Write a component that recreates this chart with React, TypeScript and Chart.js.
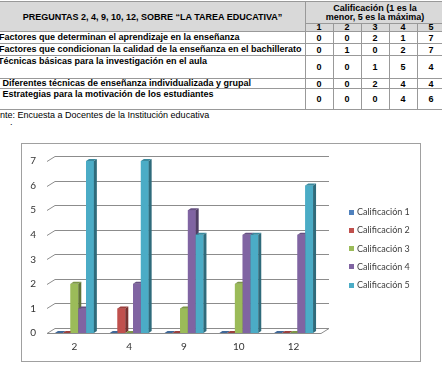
import React, { useEffect, useRef } from "react";
import { Chart, registerables } from "chart.js";

Chart.register(...registerables);

// ---------- data ----------
const categories = ["2", "4", "9", "10", "12"];
const seriesNames = ["Calificación 1", "Calificación 2", "Calificación 3", "Calificación 4", "Calificación 5"];
const calificacion1 = [0, 0, 0, 0, 0];
const calificacion2 = [0, 1, 0, 0, 0];
const calificacion3 = [2, 0, 1, 2, 0];
const calificacion4 = [1, 2, 5, 4, 4];
const calificacion5 = [7, 7, 4, 4, 6];
const seriesColors = ["#4F81BD", "#C0504D", "#9BBB59", "#8064A2", "#4BACC6"];
const yMin = 0;
const yMax = 7;
const yStep = 1;

const tableTitle = "PREGUNTAS 2, 4, 9, 10, 12, SOBRE “LA TAREA EDUCATIVA”";
const ratingTitle1 = "Calificación (1 es la";
const ratingTitle2 = "menor, 5 es la máxima)";
const ratingLabels = ["1", "2", "3", "4", "5"];
const questions = [
  "Factores que determinan el aprendizaje en la enseñanza",
  "Factores que condicionan la calidad de la enseñanza en el bachillerato",
  "Técnicas básicas para la investigación en el aula",
  " Diferentes técnicas de enseñanza individualizada y grupal",
  " Estrategias para la motivación de los estudiantes",
];
const sourceNote = "Fuente: Encuesta a Docentes de la Institución educativa";

const series = [calificacion1, calificacion2, calificacion3, calificacion4, calificacion5];

// ---------- 3D look plugin ----------
const WALL_DX = 8;
const WALL_DY = 5;
const BAR_DX = 3;
const BAR_DY = 2;

function shade(hex: string, f: number) {
  const n = parseInt(hex.slice(1), 16);
  const r = Math.round(((n >> 16) & 255) * f);
  const g = Math.round(((n >> 8) & 255) * f);
  const b = Math.round((n & 255) * f);
  return `rgb(${r},${g},${b})`;
}

const threeD = {
  id: "threeD",
  beforeDatasetsDraw(chart: any) {
    const { ctx, chartArea } = chart;
    const y = chart.scales.y;
    const L = chartArea.left;
    const R = chartArea.right;
    ctx.save();
    ctx.strokeStyle = "#8c8c8c";
    ctx.lineWidth = 1;
    for (let v = yMin; v <= yMax; v += yStep) {
      const py = Math.round(y.getPixelForValue(v)) + 0.5;
      ctx.beginPath();
      ctx.moveTo(L, py);
      ctx.lineTo(L + WALL_DX, py - WALL_DY);
      ctx.lineTo(R + WALL_DX, py - WALL_DY);
      if (v === yMin) {
        ctx.lineTo(R, py);
        ctx.lineTo(L, py);
      }
      ctx.stroke();
    }
    ctx.restore();
  },
  afterDatasetsDraw(chart: any) {
    const { ctx } = chart;
    const n = chart.data.labels.length;
    ctx.save();
    for (let j = 0; j < n; j++) {
      chart.data.datasets.forEach((ds: any, i: number) => {
        const el = chart.getDatasetMeta(i).data[j];
        if (!el) return;
        const { x, y, base, width } = el.getProps(["x", "y", "base", "width"], true);
        const l = x - width / 2;
        const r = x + width / 2;
        const col = ds.backgroundColor as string;
        ctx.fillStyle = col;
        ctx.fillRect(l, y, width, base - y);
        ctx.fillStyle = shade(col, 0.62);
        ctx.beginPath();
        ctx.moveTo(r, y);
        ctx.lineTo(r + BAR_DX, y - BAR_DY);
        ctx.lineTo(r + BAR_DX, base - BAR_DY);
        ctx.lineTo(r, base);
        ctx.closePath();
        ctx.fill();
        ctx.fillStyle = shade(col, 0.8);
        ctx.beginPath();
        ctx.moveTo(l, y);
        ctx.lineTo(r, y);
        ctx.lineTo(r + BAR_DX, y - BAR_DY);
        ctx.lineTo(l + BAR_DX, y - BAR_DY);
        ctx.closePath();
        ctx.fill();
      });
    }
    ctx.restore();
  },
  afterDraw(chart: any) {
    const { ctx } = chart;
    const lx = 327;
    const ys = [68.3, 86.5, 104.7, 122.9, 141.1];
    ctx.save();
    ctx.font = "9px Lato, 'Open Sans', sans-serif";
    ctx.textBaseline = "middle";
    ctx.textAlign = "left";
    chart.data.datasets.forEach((ds: any, i: number) => {
      const yy = ys[i];
      ctx.fillStyle = ds.backgroundColor;
      ctx.fillRect(lx, Math.round(yy - 2.5), 5, 5);
      ctx.fillStyle = "#404040";
      ctx.fillText(ds.label, lx + 8, yy);
    });
    ctx.restore();
  },
};

function BarChart() {
  const ref = useRef<HTMLCanvasElement | null>(null);
  useEffect(() => {
    if (!ref.current) return;
    const chart = new Chart(ref.current, {
      type: "bar",
      data: {
        labels: categories,
        datasets: seriesNames.map((name, i) => ({
          label: name,
          data: series[i],
          backgroundColor: seriesColors[i],
          borderWidth: 0,
          categoryPercentage: 0.71,
          barPercentage: 1.0,
        })),
      },
      options: {
        responsive: false,
        animation: false,
        devicePixelRatio: 1,
        layout: { padding: { top: 10.5, right: 99, left: 0, bottom: 0 } },
        plugins: { legend: { display: false }, tooltip: { enabled: false } },
        scales: {
          x: {
            grid: { display: false, drawTicks: false },
            border: { display: false },
            ticks: { padding: 8, color: "#333333", font: { family: "Lato", size: 10 } },
            afterFit(s: any) {
              s.height = 28;
            },
          },
          y: {
            min: yMin,
            max: yMax,
            grid: { display: false, drawTicks: false },
            border: { display: false },
            ticks: { stepSize: yStep, padding: 11, color: "#333333", font: { family: "Lato", size: 10 } },
            afterFit(s: any) {
              s.width = 25;
            },
          },
        },
      } as any,
      plugins: [threeD],
    });
    return () => chart.destroy();
  }, []);
  return <canvas ref={ref} width={398} height={217} style={{ position: "absolute", left: 0, top: 0 }} />;
}

const FONT = '"Liberation Sans", Arial, sans-serif';
const LINE = "#999999";

function T(props: { x: number; cy: number; text: string; bold?: boolean; center?: boolean; w?: number }) {
  const { x, cy, text, bold = true, center = false, w = 120 } = props;
  return (
    <div
      style={{
        position: "absolute",
        left: center ? x - w / 2 : x,
        width: center ? w : undefined,
        top: cy - 6,
        height: 12,
        lineHeight: "12px",
        fontSize: 9,
        fontFamily: FONT,
        fontWeight: bold ? "bold" : "normal",
        whiteSpace: "pre",
        textAlign: center ? "center" : "left",
        color: "#000",
      }}
    >
      {text}
    </div>
  );
}

function HLine({ y, x1, x2 }: { y: number; x1: number; x2: number }) {
  return <div style={{ position: "absolute", left: x1, top: y, width: x2 - x1, height: 1, background: LINE }} />;
}
function VLine({ x, y1, y2 }: { x: number; y1: number; y2: number }) {
  return <div style={{ position: "absolute", left: x, top: y1, width: 1, height: y2 - y1, background: LINE }} />;
}

export default function App() {
  const colEdges = [305, 333, 361, 389, 417, 445];
  const rowEdges = [31, 43, 55, 78, 88, 109];
  const textCy = [37, 49, 60.5, 83, 93.5];
  const textX = [-1, -1, -2, 0, 0];
  return (
    <div
      style={{
        position: "absolute",
        left: 0,
        top: 0,
        width: 442,
        height: 372,
        overflow: "hidden",
        background: "#fff",
      }}
    >
      {/* header background */}
      <div style={{ position: "absolute", left: 0, top: 1, width: 445, height: 30, background: "#d9d9d9" }} />
      <HLine y={1} x1={0} x2={445} />
      <HLine y={23} x1={305} x2={445} />
      {rowEdges.map((y, i) => (
        <HLine key={"h" + i} y={y} x1={0} x2={445} />
      ))}
      <VLine x={305} y1={1} y2={110} />
      {colEdges.slice(1, 5).map((x, i) => (
        <VLine key={"v" + i} x={x} y1={23} y2={110} />
      ))}
      <T x={152.5} cy={16.5} text={tableTitle} center w={300} />
      <T x={375} cy={7.5} text={ratingTitle1} center w={140} />
      <T x={375} cy={17} text={ratingTitle2} center w={140} />
      {ratingLabels.map((r, i) => (
        <T key={"r" + i} x={(colEdges[i] + colEdges[i + 1]) / 2} cy={27} text={r} center w={28} />
      ))}
      {questions.map((q, k) => (
        <T key={"q" + k} x={textX[k]} cy={textCy[k]} text={q} />
      ))}
      {questions.map((_, k) =>
        series.map((s, i) => (
          <T
            key={"n" + k + "-" + i}
            x={(colEdges[i] + colEdges[i + 1]) / 2}
            cy={(rowEdges[k] + rowEdges[k + 1]) / 2 + 0.5}
            text={String(s[k])}
            center
            w={28}
          />
        ))
      )}
      <T x={-15.5} cy={115} text={sourceNote} bold={false} />
      <T x={10} cy={122} text={"."} bold={false} />
      <div
        style={{
          position: "absolute",
          left: 21,
          top: 143,
          width: 400,
          height: 219,
          border: "1px solid #a0a0a0",
          boxSizing: "border-box",
        }}
      />
      <div style={{ position: "absolute", left: 22, top: 144, width: 398, height: 217 }}>
        <BarChart />
      </div>
    </div>
  );
}
